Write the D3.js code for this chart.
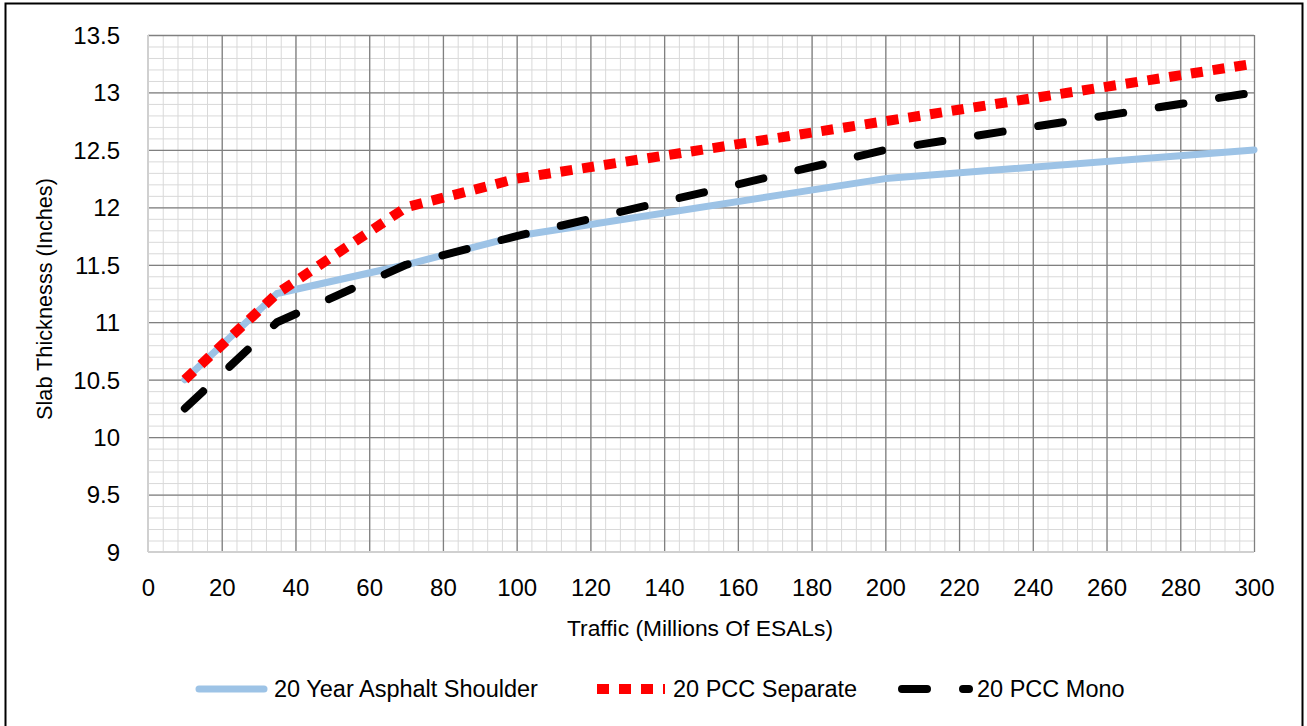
<!DOCTYPE html>
<html>
<head>
<meta charset="utf-8">
<script src="https://cdn.jsdelivr.net/npm/d3@7"></script>
<style>
  html, body { margin: 0; padding: 0; background: #fff; }
  svg { display: block; }
  text { font-family: "Liberation Sans", Arial, sans-serif; fill: #000; }
</style>
</head>
<body>
<svg id="chart" width="1307" height="726"></svg>
<script>
// ---- data ----
const traffic = [10, 35, 70, 100, 200, 300];
const asphaltShoulder = [10.5, 11.25, 11.5, 11.75, 12.25, 12.5];
const pccSeparate = [10.5, 11.25, 12.0, 12.25, 12.75, 13.25];
const pccMono = [10.25, 11.0, 11.5, 11.75, 12.5, 13.0];
const seriesNames = ["20 Year Asphalt Shoulder", "20 PCC Separate", "20 PCC Mono"];
const xTicks = [0, 20, 40, 60, 80, 100, 120, 140, 160, 180, 200, 220, 240, 260, 280, 300];
const yTicks = [9, 9.5, 10, 10.5, 11, 11.5, 12, 12.5, 13, 13.5];
const xTitle = "Traffic (Millions Of ESALs)";
const yTitle = "Slab Thicknesss (Inches)";

// ---- layout ----
const svg = d3.select("#chart");
const L = 148, R = 1254, T = 35, B = 552;
const x = d3.scaleLinear().domain([0, 300]).range([L, R]);
const y = d3.scaleLinear().domain([9, 13.5]).range([B, T]);

// outer frame
svg.append("rect").attr("x", 5.5).attr("y", 3.5).attr("width", 1297).attr("height", 740)
  .attr("fill", "none").attr("stroke", "#000").attr("stroke-width", 2);

// minor grid
const xMinor = d3.range(0, 301, 4);
const yMinor = d3.range(90, 136, 1).map(v => v / 10);
const g = svg.append("g");
g.append("g").attr("transform", `translate(0,${B})`)
  .call(d3.axisBottom(x).tickValues(xMinor).tickSize(-(B - T)).tickFormat(""))
  .call(s => s.select(".domain").remove())
  .call(s => s.selectAll("line").attr("stroke", "#d9d9d9").attr("stroke-width", 1));
g.append("g").attr("transform", `translate(${L},0)`)
  .call(d3.axisLeft(y).tickValues(yMinor).tickSize(-(R - L)).tickFormat(""))
  .call(s => s.select(".domain").remove())
  .call(s => s.selectAll("line").attr("stroke", "#d9d9d9").attr("stroke-width", 1));

// major grid
g.append("g").attr("transform", `translate(0,${B})`)
  .call(d3.axisBottom(x).tickValues(xTicks.slice(1)).tickSize(-(B - T)).tickFormat(""))
  .call(s => s.select(".domain").remove())
  .call(s => s.selectAll("line").attr("stroke", "#808080").attr("stroke-width", 1.3));
g.append("g").attr("transform", `translate(${L},0)`)
  .call(d3.axisLeft(y).tickValues(yTicks.slice(1)).tickSize(-(R - L)).tickFormat(""))
  .call(s => s.select(".domain").remove())
  .call(s => s.selectAll("line").attr("stroke", "#808080").attr("stroke-width", 1.3));

// axis lines (light)
svg.append("line").attr("x1", L).attr("x2", L).attr("y1", T).attr("y2", B)
  .attr("stroke", "#d0d0d0").attr("stroke-width", 2);
svg.append("line").attr("x1", L).attr("x2", R).attr("y1", B).attr("y2", B)
  .attr("stroke", "#d0d0d0").attr("stroke-width", 2);

// tick labels
svg.append("g").attr("transform", `translate(0,${B})`)
  .call(d3.axisBottom(x).tickValues(xTicks).tickSize(0).tickPadding(0).tickFormat(d3.format("d")))
  .call(s => s.select(".domain").remove())
  .call(s => s.selectAll("text").attr("dy", null).attr("y", 44)
      .style("font-family", "Liberation Sans, Arial, sans-serif").style("font-size", "24px").attr("fill", "#000"));
svg.append("g").attr("transform", `translate(120,0)`)
  .call(d3.axisLeft(y).tickValues(yTicks).tickSize(0).tickPadding(0).tickFormat(d => String(d)))
  .call(s => s.select(".domain").remove())
  .call(s => s.selectAll("text").attr("dy", "0.35em").attr("x", 0)
      .style("font-family", "Liberation Sans, Arial, sans-serif").style("font-size", "24px").attr("fill", "#000"));

// titles
svg.append("text").attr("x", 700).attr("y", 636).attr("text-anchor", "middle")
  .style("font-size", "22.8px").text(xTitle);
svg.append("text").attr("transform", "translate(52,299) rotate(-90)").attr("text-anchor", "middle")
  .style("font-size", "21.7px").text(yTitle);

// series
const styles = [
  { vals: asphaltShoulder, color: "#9dc3e6", width: 7, dash: null, cap: "round" },
  { vals: pccSeparate, color: "#ff0000", width: 10, dash: "12 10", cap: "butt" },
  { vals: pccMono, color: "#000000", width: 8, dash: "25 36", cap: "round" }
];
const line = d3.line().x(d => x(d[0])).y(d => y(d[1]));
styles.forEach(st => {
  const pts = traffic.map((t, i) => [t, st.vals[i]]);
  svg.append("path").attr("d", line(pts)).attr("fill", "none")
    .attr("stroke", st.color).attr("stroke-width", st.width)
    .attr("stroke-dasharray", st.dash).attr("stroke-linecap", st.cap)
    .attr("stroke-linejoin", "round");
});

// legend
const legY = 689;
const legItems = [
  { x1: 199, x2: 264, tx: 274 },
  { x1: 597, x2: 665, tx: 673 },
  { x1: 902, x2: 969, tx: 977 }
];
legItems.forEach((li, i) => {
  const st = styles[i];
  svg.append("line").attr("x1", li.x1).attr("x2", li.x2).attr("y1", legY).attr("y2", legY)
    .attr("stroke", st.color).attr("stroke-width", st.width)
    .attr("stroke-dasharray", st.dash).attr("stroke-linecap", st.cap);
  svg.append("text").attr("x", li.tx).attr("y", legY + 8).style("font-size", "23.5px").text(seriesNames[i]);
});
</script>
</body>
</html>
